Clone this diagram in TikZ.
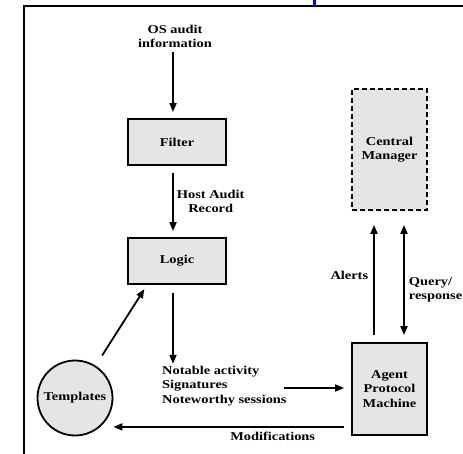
\documentclass[tikz,border=0pt]{standalone}
\usepackage{fontspec}
\setmainfont{Liberation Serif}[FakeStretch=1.2]
\usetikzlibrary{arrows.meta, calc, positioning}
\tikzset{
  lbl/.style={font=\bfseries\fontsize{12}{14.5}\selectfont, inner sep=2pt, align=center},
  box/.style={lbl, draw, line width=1.8pt, fill=black!10, minimum width=98pt},
  arr/.style={line width=1.8pt, -{Triangle[length=9pt,width=7pt]}},
}
\begin{document}
\begin{tikzpicture}[x=1pt, y=-1pt]
\useasboundingbox (0,0) rectangle (463,454);
% frame
\draw[line width=1.8pt] (24,454)--(24,6)--(463,6);
\fill[blue] (312.7,0) rectangle (316,5);
% boxes
\node[box, minimum height=46pt] (filter) at (177,142) {Filter};
\node[box, minimum height=46pt] (logic) at (177,261) {Logic};
\node[box, dash pattern=on 5pt off 3pt, minimum width=75pt, minimum height=121pt] (central) at (389.5,149.5) {Central\\Manager};
\node[box, minimum width=75pt, minimum height=92pt] (agent) at (389.5,389) {Agent\\Protocol\\Machine};
\node[lbl, circle, draw, line width=1.8pt, fill=black!10, minimum size=75pt, inner sep=0pt] (templates) at (75,398) {Templates};
% texts
\node[lbl] (os) at (175,36.5) {OS audit\\information};
\node[lbl, align=left, anchor=west] (notable) at (160,386) {Notable activity\\Signatures\\Noteworthy sessions};
% arrows
\draw[arr, shorten <=2pt, shorten >=6pt] (os.south -| 173,0) -- ([xshift=-4pt]filter.north);
\draw[arr, shorten <=7pt, shorten >=6pt] ([xshift=-4pt]filter.south) -- ([xshift=-4pt]logic.south |- logic.north)
  node[lbl, midway, right=1pt] {Host Audit\\Record};
\draw[arr, shorten <=8pt] ([xshift=-4pt]logic.south) -- ([xshift=-4pt]logic.south |- notable.north);
\draw[arr, shorten <=12pt, shorten >=5pt] (templates) -- ([xshift=20pt]logic.south west);
\draw[arr, shorten >=7pt] ([xshift=-5pt,yshift=-2pt]notable.east) -- (agent.west |- 0,388);
\draw[arr, shorten <=7pt] ([yshift=9pt]agent.south west) -- ([yshift=9pt]agent.south west -| templates.east)
  node[lbl, pos=0.33, below=2pt] {Modifications};
\draw[arr, shorten <=7pt, shorten >=14pt] ([xshift=-15.5pt]agent.north) -- ([xshift=-15.5pt]central.south)
  node[lbl, pos=0.5, left=3pt, yshift=1pt] {Alerts};
\draw[arr, {Triangle[length=9pt,width=7pt]}-{Triangle[length=9pt,width=7pt]}, shorten <=7pt, shorten >=14pt]
  ([xshift=14.5pt]agent.north) -- ([xshift=14.5pt]central.south)
  node[lbl, align=left, pos=0.4, right=2pt] {Query/\\response};
\end{tikzpicture}
\end{document}
